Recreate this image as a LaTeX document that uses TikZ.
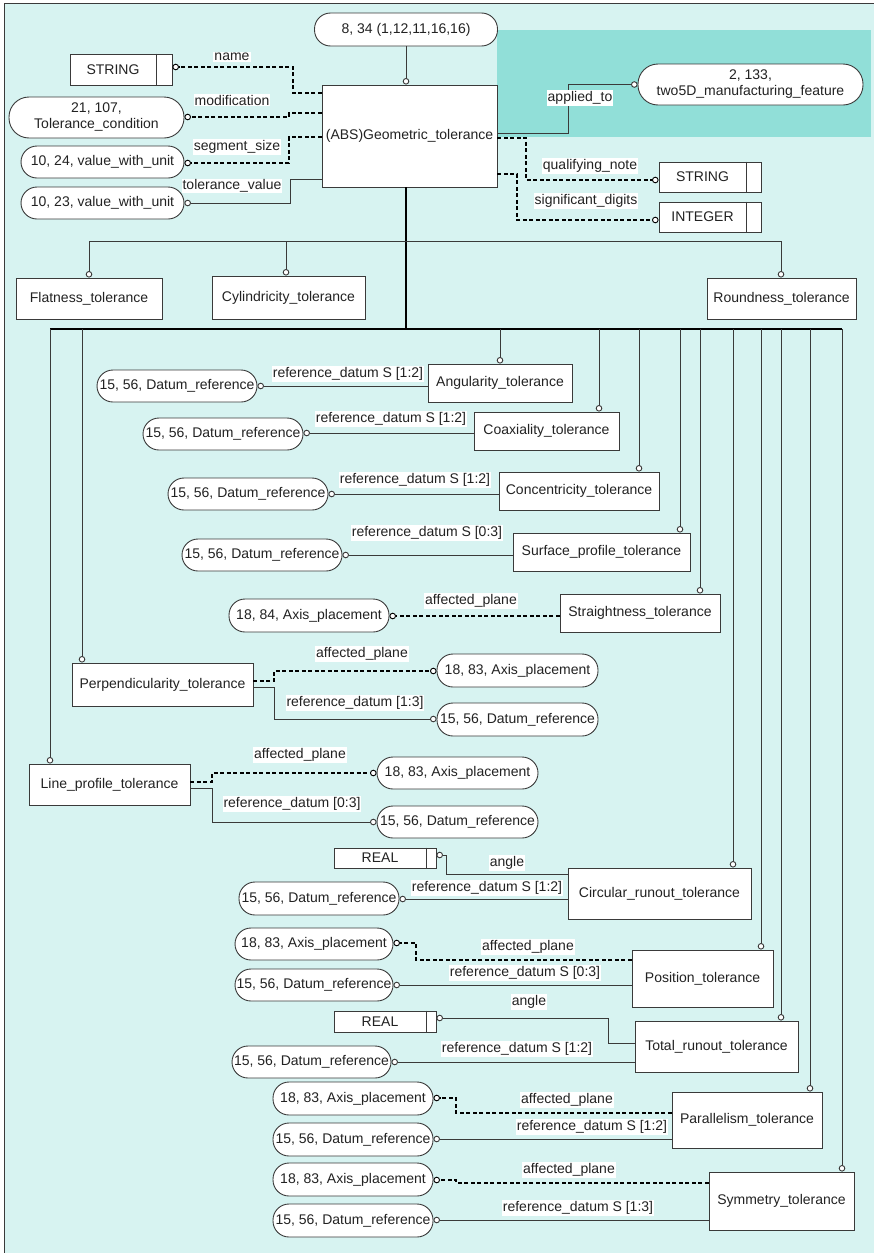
\documentclass[tikz,border=0pt]{standalone}
\usepackage{fontspec}
\setmainfont{Liberation Sans}
\usetikzlibrary{arrows.meta}
\definecolor{bg}{HTML}{D7F3F1}
\definecolor{hl}{HTML}{91DFD8}
\definecolor{ln}{HTML}{3A3A3A}
\definecolor{tx}{HTML}{222222}
\begin{document}
\begin{tikzpicture}[x=1pt,y=-1pt,font=\fontsize{14}{16}\selectfont,
  ent/.style={draw=ln,line width=0.9pt,fill=white,inner sep=0pt,text=tx},
  pill/.style={ent,rounded corners=16pt},
  pilltwo/.style={ent,rounded corners=20pt,align=center},
  tbox/.style={ent,minimum width=102pt},
  plain/.style={inner sep=0pt,text=tx},
  lbl/.style={fill=white,inner sep=1pt,text=tx},
  tip/.style={-{Circle[length=6.5pt,width=6.5pt,fill=white,line width=0.9pt]}},
  conn/.style={draw=ln,line width=0.9pt,tip},
  dconn/.style={draw=black,line width=1.5pt,dash pattern=on 4pt off 2.5pt,tip},
  bar/.style={draw=black,line width=1.4pt},
  thinbar/.style={draw=ln,line width=0.9pt}]
\useasboundingbox (0,0) rectangle (874,1253);
\fill[white] (0,0) rectangle (874,1253);
\fill[bg] (4,3.5) rectangle (874,1253);
\draw[ln,line width=1.5pt] (4.5,1253) -- (4.5,3.5) -- (874,3.5);
\fill[hl] (497,30) rectangle (871,137);

% top entity
\node[pill,minimum width=183pt,minimum height=33pt] (hdr) at (406,29.5) {8, 34 (1,12,11,16,16)};
\node[ent,minimum width=175pt,minimum height=102pt] (geo) at (409.5,136) {(ABS)Geometric\_tolerance};
\node[pilltwo,minimum width=225pt,minimum height=41pt] (mfg) at (750.5,84.5) {2, 133,\\two5D\_manufacturing\_feature};
\node[tbox,minimum height=30pt] (strR) at (710,177) {};
\node[plain] (strRt) at (702.5,177) {STRING};
\draw[ln,line width=0.9pt] ([xshift=-15pt]strR.north east) -- ([xshift=-15pt]strR.south east);
\node[tbox,minimum height=30pt] (intR) at (710,217) {};
\node[plain] (intRt) at (702.5,217) {INTEGER};
\draw[ln,line width=0.9pt] ([xshift=-15pt]intR.north east) -- ([xshift=-15pt]intR.south east);
\node[tbox,minimum height=31pt] (strL) at (121,69.5) {};
\node[plain] (strLt) at (113,69.5) {STRING};
\draw[ln,line width=0.9pt] ([xshift=-16pt]strL.north east) -- ([xshift=-16pt]strL.south east);
\node[pilltwo,minimum width=175pt,minimum height=41pt] (tolc) at (96.5,117.5) {21, 107,\\Tolerance\_condition};
\node[pill,minimum width=163pt,minimum height=32pt] (v24) at (102.5,162) {10, 24, value\_with\_unit};
\node[pill,minimum width=163pt,minimum height=32pt] (v23) at (102.5,203) {10, 23, value\_with\_unit};

\draw[conn] (hdr.south) -- (hdr.south |- geo.north);
\draw[conn] (geo.east |- 0,133) -- (568,133) -- (568,84.5) -- (mfg.west);
\draw[dconn] (geo.east |- 0,138) -- (526,138) -- (526,180) -- (strR.west |- 0,180);
\draw[dconn] (geo.east |- 0,174) -- (517,174) -- (517,220) -- (intR.west |- 0,220);
\draw[dconn] (geo.west |- 0,93) -- (293,93) -- (293,67) -- (strL.east |- 0,67);
\draw[dconn] (geo.west |- 0,113) -- (289,113) -- (289,117) -- (tolc.east |- 0,117);
\draw[dconn] (geo.west |- 0,137) -- (289,137) -- (289,163) -- (v24.east |- 0,163);
\draw[conn] (geo.west |- 0,179) -- (290,179) -- (290,203) -- (v23.east |- 0,203);
\node[lbl] (l1) at (232,57) {name};
\node[lbl] (l2) at (232,100) {modification};
\node[lbl] (l3) at (237,147) {segment\_size};
\node[lbl] (l4) at (232,186) {tolerance\_value};
\node[lbl] (l5) at (580,98) {applied\_to};
\node[lbl] (l6) at (590,166) {qualifying\_note};
\node[lbl] (l7) at (586,201) {significant\_digits};

% first row of subtypes
\node[ent,minimum width=146pt,minimum height=41pt] (flat) at (89,298.5) {Flatness\_tolerance};
\node[ent,minimum width=153pt,minimum height=43pt] (cyl) at (288.5,297.5) {Cylindricity\_tolerance};
\node[ent,minimum width=149pt,minimum height=41pt] (round) at (781.5,298.5) {Roundness\_tolerance};
\draw[bar] (geo.south -| 406,0) -- (406,329);
\draw[thinbar] (89,241) -- (781,241);
\draw[conn] (89,241) -- (flat.north);
\draw[conn] (286,241) -- (cyl.north -| 286,0);
\draw[conn] (781,241) -- (round.north -| 781,0);
\draw[bar] (50,329) -- (842,329);

% second group
\node[ent,minimum width=144pt,minimum height=38pt] (ang) at (500,383) {Angularity\_tolerance};
\node[pill,minimum width=160pt,minimum height=32pt] (dr1) at (177,386) {15, 56, Datum\_reference};
\node[ent,minimum width=145pt,minimum height=38pt] (coax) at (546.5,431) {Coaxiality\_tolerance};
\node[pill,minimum width=160pt,minimum height=32pt] (dr2) at (223,434) {15, 56, Datum\_reference};
\node[ent,minimum width=160pt,minimum height=38pt] (conc) at (579,491) {Concentricity\_tolerance};
\node[pill,minimum width=160pt,minimum height=32pt] (dr3) at (248,494) {15, 56, Datum\_reference};
\node[ent,minimum width=177pt,minimum height=38pt] (surf) at (601.5,552) {Surface\_profile\_tolerance};
\node[pill,minimum width=160pt,minimum height=32pt] (dr4) at (262,555) {15, 56, Datum\_reference};
\node[ent,minimum width=160pt,minimum height=38pt] (strt) at (640,613) {Straightness\_tolerance};
\node[pill,minimum width=160pt,minimum height=33pt] (ax84) at (309,615.5) {18, 84, Axis\_placement};
\node[ent,minimum width=181pt,minimum height=43pt] (perp) at (162.5,684.5) {Perpendicularity\_tolerance};
\node[pill,minimum width=161pt,minimum height=33pt] (axa) at (517.5,670.5) {18, 83, Axis\_placement};
\node[pill,minimum width=161pt,minimum height=33pt] (dr5) at (517.5,719.5) {15, 56, Datum\_reference};
\node[ent,minimum width=161pt,minimum height=41pt] (lprof) at (109.5,784.5) {Line\_profile\_tolerance};
\node[pill,minimum width=161pt,minimum height=32pt] (axb) at (457.5,773) {18, 83, Axis\_placement};
\node[pill,minimum width=161pt,minimum height=32pt] (dr6) at (457.5,822) {15, 56, Datum\_reference};
\node[tbox,minimum height=20pt] (real1) at (385,858) {};
\node[plain] (real1t) at (380,858) {REAL};
\draw[ln,line width=0.9pt] ([xshift=-10pt]real1.north east) -- ([xshift=-10pt]real1.south east);
\node[ent,minimum width=183pt,minimum height=51pt] (circ) at (659.5,893.5) {Circular\_runout\_tolerance};
\node[pill,minimum width=160pt,minimum height=33pt] (dr7) at (319,898.5) {15, 56, Datum\_reference};
\node[ent,minimum width=141pt,minimum height=57pt] (pos) at (702.5,978.5) {Position\_tolerance};
\node[pill,minimum width=158pt,minimum height=32pt] (axc) at (314,944) {18, 83, Axis\_placement};
\node[pill,minimum width=158pt,minimum height=32pt] (dr8) at (314,985) {15, 56, Datum\_reference};
\node[tbox,minimum height=21pt] (real2) at (385,1021.5) {};
\node[plain] (real2t) at (380,1021.5) {REAL};
\draw[ln,line width=0.9pt] ([xshift=-10pt]real2.north east) -- ([xshift=-10pt]real2.south east);
\node[ent,minimum width=163pt,minimum height=51pt] (tot) at (716.5,1046.5) {Total\_runout\_tolerance};
\node[pill,minimum width=159pt,minimum height=32pt] (dr9) at (311.5,1062) {15, 56, Datum\_reference};
\node[ent,minimum width=150pt,minimum height=56pt] (par) at (747,1120) {Parallelism\_tolerance};
\node[pill,minimum width=160pt,minimum height=33pt] (axd) at (353,1098.5) {18, 83, Axis\_placement};
\node[pill,minimum width=160pt,minimum height=33pt] (dr10) at (353,1139.5) {15, 56, Datum\_reference};
\node[ent,minimum width=145pt,minimum height=58pt] (sym) at (781.5,1201) {Symmetry\_tolerance};
\node[pill,minimum width=160pt,minimum height=33pt] (axe) at (353,1179.5) {18, 83, Axis\_placement};
\node[pill,minimum width=160pt,minimum height=33pt] (dr11) at (353,1220.5) {15, 56, Datum\_reference};

% supertype drops
\draw[conn] (50,329) -- (lprof.north -| 50,0);
\draw[conn] (82,329) -- (perp.north -| 82,0);
\draw[conn] (500,329) -- (ang.north);
\draw[conn] (599,329) -- (coax.north -| 599,0);
\draw[conn] (639,329) -- (conc.north -| 639,0);
\draw[conn] (680,329) -- (surf.north -| 680,0);
\draw[conn] (700,329) -- (strt.north -| 700,0);
\draw[conn] (733,329) -- (circ.north -| 733,0);
\draw[conn] (761,329) -- (pos.north -| 761,0);
\draw[conn] (781,329) -- (tot.north -| 781,0);
\draw[conn] (810,329) -- (par.north -| 810,0);
\draw[conn] (842,329) -- (sym.north -| 842,0);

% attributes
\draw[conn] (ang.west |- 0,386) -- (dr1.east);
\draw[conn] (coax.west |- 0,433) -- (dr2.east |- 0,433);
\draw[conn] (conc.west |- 0,494) -- (dr3.east);
\draw[conn] (surf.west |- 0,555) -- (dr4.east);
\draw[dconn] (strt.west |- 0,616) -- (ax84.east |- 0,616);
\draw[dconn] (perp.east |- 0,681) -- (274,681) -- (274,671) -- (axa.west |- 0,671);
\draw[conn] (perp.east |- 0,687) -- (274,687) -- (274,719) -- (dr5.west |- 0,719);
\draw[dconn] (lprof.east |- 0,782) -- (212,782) -- (212,773) -- (axb.west);
\draw[conn] (lprof.east |- 0,788) -- (212,788) -- (212,822) -- (dr6.west);
\draw[conn] (circ.west |- 0,874) -- (446,874) -- (446,855) -- (real1.east |- 0,855);
\draw[conn] (circ.west |- 0,899) -- (dr7.east |- 0,899);
\draw[dconn] (pos.west |- 0,960) -- (416,960) -- (416,943) -- (axc.east |- 0,943);
\draw[conn] (pos.west |- 0,985) -- (dr8.east);
\draw[conn] (tot.west |- 0,1043) -- (608,1043) -- (608,1018) -- (real2.east |- 0,1018);
\draw[conn] (tot.west |- 0,1062) -- (dr9.east);
\draw[dconn] (par.west |- 0,1113) -- (456,1113) -- (456,1098) -- (axd.east |- 0,1098);
\draw[conn] (par.west |- 0,1139) -- (dr10.east |- 0,1139);
\draw[dconn] (sym.west |- 0,1183) -- (456,1183) -- (456,1180) -- (axe.east |- 0,1180);
\draw[conn] (sym.west |- 0,1220) -- (dr11.east |- 0,1220);

\node[lbl] (m1) at (348,374) {reference\_datum S [1:2]};
\node[lbl] (m2) at (391,419) {reference\_datum S [1:2]};
\node[lbl] (m3) at (415,480) {reference\_datum S [1:2]};
\node[lbl] (m4) at (427,533) {reference\_datum S [0:3]};
\node[lbl] (m5) at (471,601) {affected\_plane};
\node[lbl] (m6) at (362,654) {affected\_plane};
\node[lbl] (m7) at (355,703) {reference\_datum [1:3]};
\node[lbl] (m8) at (300,755) {affected\_plane};
\node[lbl] (m9) at (292,804) {reference\_datum [0:3]};
\node[lbl] (m10) at (507,863) {angle};
\node[lbl] (m11) at (487,888) {reference\_datum S [1:2]};
\node[lbl] (m12) at (528,947) {affected\_plane};
\node[lbl] (m13) at (525,973) {reference\_datum S [0:3]};
\node[lbl] (m14) at (529,1002) {angle};
\node[lbl] (m15) at (517,1049) {reference\_datum S [1:2]};
\node[lbl] (m16) at (567,1100) {affected\_plane};
\node[lbl] (m17) at (592,1127) {reference\_datum S [1:2]};
\node[lbl] (m18) at (569,1170) {affected\_plane};
\node[lbl] (m19) at (578,1208) {reference\_datum S [1:3]};
\end{tikzpicture}
\end{document}
